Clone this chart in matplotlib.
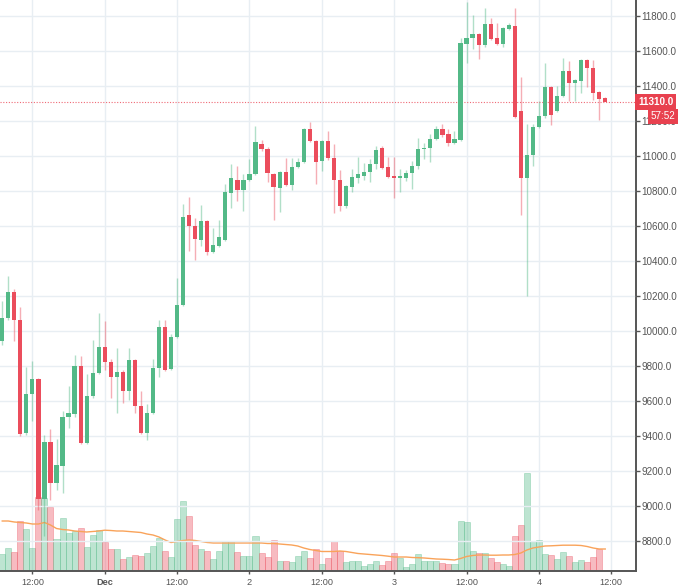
import matplotlib
matplotlib.use("Agg")
import matplotlib.pyplot as plt
import matplotlib.transforms as mtransforms
import numpy as np

plt.rcParams['font.family'] = ['Liberation Sans', 'DejaVu Sans']

# hourly candles, Nov 30 07:00 -> Dec 4 11:00
opens = [9946, 10074, 10223, 10065, 9416, 9639, 9725, 9040, 9368, 9133,
         9229, 9511, 9526, 9801, 9362, 9629, 9763, 9908, 9826, 9740,
         9767, 9658, 9836, 9574, 9420, 9534, 9788, 10023, 9782, 9969,
         10150, 10662, 10603, 10523, 10628, 10454, 10485, 10523, 10790, 10866,
         10809, 10863, 10895, 11067, 11042, 10899, 10819, 10910, 10834, 10939,
         10968, 11153, 11086, 10971, 11086, 10990, 10866, 10714, 10825, 10876,
         10886, 10908, 10952, 11048, 10939, 10886, 10876, 10876, 10901, 10943,
         11038, 11048, 11095, 11153, 11124, 11076, 11092, 11638, 11672, 11699,
         11634, 11753, 11676, 11642, 11728, 11743, 11257, 10875, 11005, 11165,
         11228, 11396, 11257, 11346, 11486, 11415, 11428, 11547, 11501, 11365,
         11333]
highs = [10170, 10313, 10240, 10137, 9797, 9830, 9730, 9406, 9441, 9383,
         9546, 9685, 9864, 9855, 9757, 9950, 10103, 10059, 9840, 9902,
         9778, 9902, 9840, 9660, 9584, 9839, 10065, 10065, 9982, 10303,
         10727, 10765, 10647, 10720, 10635, 10590, 10634, 10842, 10956, 10943,
         10895, 10985, 11172, 11090, 11050, 10905, 10915, 10990, 10987, 10987,
         11160, 11195, 11090, 11090, 11143, 11070, 10918, 10835, 10924, 10996,
         10962, 10981, 11057, 11055, 10996, 10996, 10924, 10920, 10971, 11105,
         11076, 11124, 11172, 11181, 11153, 11143, 11676, 11880, 11804, 11705,
         11848, 11791, 11758, 11735, 11762, 11848, 11453, 11184, 11184, 11314,
         11533, 11400, 11400, 11562, 11543, 11440, 11556, 11555, 11547, 11370,
         11335]
lows = [9922, 10065, 9941, 9400, 9405, 9486, 8980, 8828, 9034, 9090,
        9076, 9448, 9510, 9355, 9355, 9620, 9755, 9778, 9616, 9530,
        9588, 9607, 9530, 9410, 9378, 9525, 9740, 9770, 9775, 9960,
        10145, 10458, 10409, 10485, 10437, 10445, 10480, 10515, 10704, 10746,
        10689, 10855, 10890, 11030, 10851, 10632, 10679, 10828, 10805, 10930,
        10960, 11080, 10838, 10914, 10980, 10672, 10685, 10705, 10794, 10844,
        10861, 10851, 10924, 10925, 10875, 10762, 10794, 10857, 10813, 10927,
        10981, 10966, 11090, 11110, 11057, 11070, 11085, 11533, 11610, 11556,
        11625, 11665, 11635, 11625, 11720, 11215, 10666, 10200, 10946, 11160,
        11220, 11176, 11250, 11340, 11314, 11314, 11362, 11394, 11323, 11209,
        11312]
closes = [10075, 10223, 10061, 9410, 9641, 9725, 9040, 9368, 9133, 9235,
          9511, 9530, 9801, 9362, 9631, 9763, 9908, 9822, 9736, 9765,
          9658, 9836, 9572, 9420, 9534, 9788, 10021, 9778, 9969, 10150,
          10653, 10599, 10529, 10628, 10454, 10491, 10538, 10794, 10876, 10809,
          10866, 10895, 11080, 11038, 10905, 10823, 10910, 10834, 10939, 10968,
          11153, 11086, 10968, 11086, 10987, 10863, 10712, 10828, 10880, 10899,
          10910, 10952, 11034, 10933, 10882, 10876, 10886, 10901, 10943, 11042,
          11048, 11095, 11153, 11120, 11076, 11095, 11648, 11676, 11695, 11634,
          11753, 11671, 11642, 11730, 11749, 11222, 10875, 11005, 11165, 11228,
          11396, 11232, 11346, 11489, 11415, 11432, 11548, 11501, 11362, 11329,
          11310]
volume = [17, 23, 19, 50, 42, 23, 74, 73, 64, 32,
          53, 38, 40, 43, 24, 36, 41, 29, 22, 22,
          12, 14, 16, 15, 18, 25, 33, 20, 14, 52,
          70, 55, 26, 22, 20, 12, 20, 30, 30, 19,
          15, 15, 35, 18, 14, 31, 10, 10, 9, 15,
          20, 13, 22, 7, 13, 30, 20, 9, 10, 10,
          5, 7, 10, 6, 10, 18, 13, 4, 7, 17,
          10, 10, 10, 8, 7, 7, 50, 49, 20, 18,
          18, 13, 9, 7, 5, 35, 46, 98, 30, 31,
          17, 16, 12, 19, 15, 9, 11, 9, 14, 22,
          1]
volume_ma = [50, 50, 49, 48.5, 48, 47, 47, 48.5, 46, 42.5,
             41.5, 41, 40, 39.5, 39, 39.5, 40, 40.8, 40.5, 40,
             40, 39.5, 39, 38.5, 37, 36, 34, 31, 28.5, 29.5,
             30.5, 31, 30.5, 29.5, 28.5, 28, 28, 28, 28, 28,
             28, 28, 28, 28, 27.5, 27.5, 27, 26.5, 26, 25,
             23, 21.5, 20.5, 19.5, 19.5, 19.5, 20, 19.5, 18.5, 17.5,
             17, 16.5, 16, 15.5, 14.8, 14, 14, 14, 13.5, 13.3,
             13, 12.5, 12, 11.8, 11.5, 11, 12.5, 14.5, 15.5, 16,
             16, 15.8, 15.8, 16, 16, 16.5, 18, 21, 23, 24,
             25, 25.2, 25.5, 25.8, 25.8, 25.8, 25.5, 24.5, 23, 22,
             22]
tick_pos = [5, 17, 29, 41, 53, 65, 77, 89, 101]
tick_labels = ['12:00', 'Dec', '12:00', '2', '12:00', '3', '12:00', '4', '12:00']
last_price = 11310.0
countdown = '57:52'

green = '#53b987'
red = '#eb4d5c'
idx = np.arange(len(opens))
o = np.array(opens)
c = np.array(closes)
up = c >= o
colors = np.where(up, green, red)

fig = plt.figure(figsize=(6.8, 5.88), dpi=100)
ax_vol = fig.add_axes([0, 17 / 588, 636 / 680, 571 / 588])
ax = ax_vol.twinx()

# volume + moving average
ax_vol.bar(idx, volume, width=1.0, color=colors, alpha=0.38,
           edgecolor=colors, linewidth=0.6)
ax_vol.plot(idx, volume_ma, color='#f9a35a', lw=1.0)
ax_vol.set_ylim(0, 571)
ax_vol.set_yticks([])
ax_vol.set_axisbelow(True)
ax_vol.grid(axis='x', color='#e8eef3', lw=1)
ax_vol.set_xticks(tick_pos)
ax_vol.set_xticklabels(tick_labels)
for lab in ax_vol.get_xticklabels():
    if lab.get_text() == 'Dec':
        lab.set_fontweight('bold')
        lab.set_color('#333333')
ax_vol.tick_params(axis='x', length=2.5, width=1, color='#555555',
                   labelsize=6.6, labelcolor='#555555', pad=2.5)
ax_vol.set_xlim(-0.37, 105.1)

# candles
ax.vlines(idx, lows, highs, colors=colors, lw=1.0, alpha=0.45)
body = np.maximum(np.abs(c - o), 6)
ax.bar(idx, body, bottom=np.minimum(o, c), width=0.7, color=colors, zorder=3)
ax.set_ylim(8629, 11892)
ax.set_yticks(np.arange(8800, 11801, 200))
ax.yaxis.set_major_formatter(plt.FormatStrFormatter('%.1f'))
ax.tick_params(axis='y', length=3, width=1, color='#555555',
               labelsize=7.1, labelcolor='#555555', pad=1)
ax.grid(axis='y', color='#e8eef3', lw=1)
ax.set_axisbelow(True)

for a in (ax, ax_vol):
    a.spines['top'].set_visible(False)
    a.spines['left'].set_visible(False)
    a.spines['right'].set_color('#555555')
    a.spines['bottom'].set_color('#555555')
    a.spines['right'].set_linewidth(1.2)
    a.spines['bottom'].set_linewidth(1.2)

# last price line and label
ax.axhline(last_price, color='#ef6a76', lw=0.8, ls=(0, (1, 1.5)))
trans = mtransforms.blended_transform_factory(ax.transAxes, ax.transData)
ax.text(1.003, last_price, '%.1f' % last_price, transform=trans, ha='left',
        va='center', color='white', fontsize=7.1, fontweight='bold',
        bbox=dict(boxstyle='square,pad=0.3', fc='#e8414f', ec='none'),
        clip_on=False, zorder=10)
ax.annotate(countdown, xy=(1.0, last_price), xycoords=trans,
            xytext=(19.5, -10.5), textcoords='offset points', ha='center',
            va='center', color='white', fontsize=7.1,
            bbox=dict(boxstyle='square,pad=0.25', fc='#e8414f', ec='none'),
            annotation_clip=False, zorder=10)

fig.savefig('out.png', dpi=100, facecolor='white')
